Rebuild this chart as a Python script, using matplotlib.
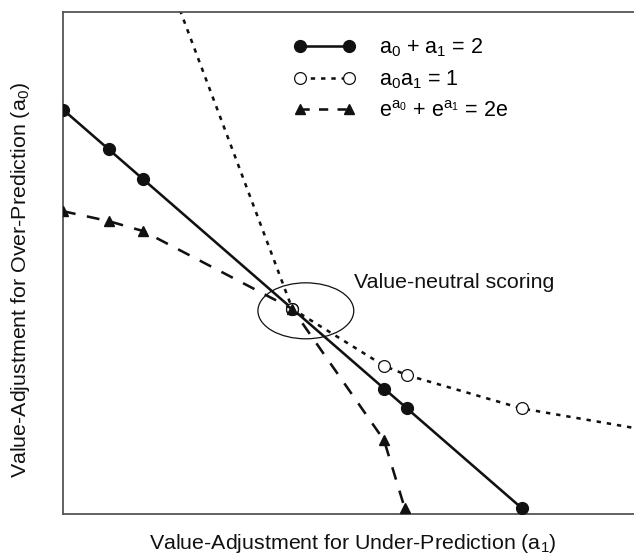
import matplotlib
matplotlib.use("Agg")
import matplotlib.pyplot as plt
from matplotlib.patches import Ellipse
from matplotlib.lines import Line2D

plt.rcParams['font.family'] = ['Liberation Sans', 'DejaVu Sans']
plt.rcParams['mathtext.fontset'] = 'custom'
plt.rcParams['mathtext.rm'] = 'Liberation Sans'
plt.rcParams['mathtext.it'] = 'Liberation Sans'
plt.rcParams['mathtext.bf'] = 'Liberation Sans:bold'

# a0 + a1 = 2
lin_a1 = [0.0, 0.2, 0.35, 1.0, 1.4, 1.5, 2.0]
lin_a0 = [2.0, 1.8, 1.65, 1.0, 0.6, 0.5, 0.0]

# a0 * a1 = 1 (line path) and marked points
prod_a1 = [0.51, 1.0, 1.4, 1.5, 2.0, 2.5]
prod_a0 = [2.5, 1.0, 0.714, 0.667, 0.5, 0.4]
prod_mark_a1 = [1.0, 1.4, 1.5, 2.0]
prod_mark_a0 = [1.0, 0.714, 0.667, 0.5]

# e^a0 + e^a1 = 2e
exp_a1 = [0.0, 0.2, 0.35, 1.0, 1.4, 1.49]
exp_a0 = [1.49, 1.44, 1.39, 1.0, 0.34, 0.0]

labels = [r'a$\mathregular{_0}$ + a$\mathregular{_1}$ = 2',
          r'a$\mathregular{_0}$a$\mathregular{_1}$ = 1',
          r'e$\mathregular{^{a_0}}$ + e$\mathregular{^{a_1}}$ = 2e']

fig = plt.figure(figsize=(6.34, 5.56), dpi=100)
ax = fig.add_axes([63/634, 42/556, (634-63)/634, 502/556])

k = '#111111'
LW = 1.85
ax.plot(lin_a1, lin_a0, color=k, lw=LW, marker='o', ms=8.5,
        markerfacecolor=k, markeredgecolor=k, zorder=3)
ax.plot(prod_a1, prod_a0, color=k, lw=LW, dashes=(1.7, 2.3), zorder=2)
ax.plot(prod_mark_a1, prod_mark_a0, ls='none', marker='o', ms=8.5,
        markerfacecolor='white', markeredgecolor=k, markeredgewidth=0.9, zorder=4)
ax.plot(exp_a1, exp_a0, color=k, lw=LW, dashes=(5.0, 4.5), marker='^',
        ms=7.5, markerfacecolor=k, markeredgecolor=k, zorder=5)

# legend proxies
h1 = Line2D([], [], color=k, lw=LW, marker='o', ms=8.5, markerfacecolor=k, markeredgecolor=k)
h2 = Line2D([], [], color=k, lw=LW, dashes=(1.7, 2.3), marker='o', ms=8.5,
            markerfacecolor='white', markeredgecolor=k, markeredgewidth=0.9)
h3 = Line2D([], [], color=k, lw=LW, dashes=(3.6, 3.6), marker='^', ms=7.5,
            markerfacecolor=k, markeredgecolor=k)
ax.legend([h1, h2, h3], labels, loc='upper left', bbox_to_anchor=(0.37, 0.99),
          frameon=False, numpoints=2, handlelength=2.85, handletextpad=1.1,
          labelspacing=0.45, fontsize=15.5)

ell = Ellipse((1.059, 0.99), 0.418, 0.281, fill=False, edgecolor=k, lw=0.9, zorder=6)
ax.add_patch(ell)
ax.text(1.268, 1.13, 'Value-neutral scoring', fontsize=15.4, ha='left', va='center', color=k)

ax.set_xlim(0, 2.49)
ax.set_ylim(-0.03, 2.49)
ax.set_xticks([])
ax.set_yticks([])
ax.spines['right'].set_visible(False)
for s in ['left', 'top', 'bottom']:
    ax.spines[s].set_color('#555555')
    ax.spines[s].set_linewidth(1.3)

ax.set_xlabel(r'Value-Adjustment for Under-Prediction (a$\mathregular{_1}$)', fontsize=15.4, color=k)
ax.xaxis.set_label_coords(0.508, -0.036)
ax.set_ylabel(r'Value-Adjustment for Over-Prediction (a$\mathregular{_0}$)', fontsize=15.4, color=k)
ax.yaxis.set_label_coords(-0.054, 0.466)

fig.savefig('out.png', dpi=100)
